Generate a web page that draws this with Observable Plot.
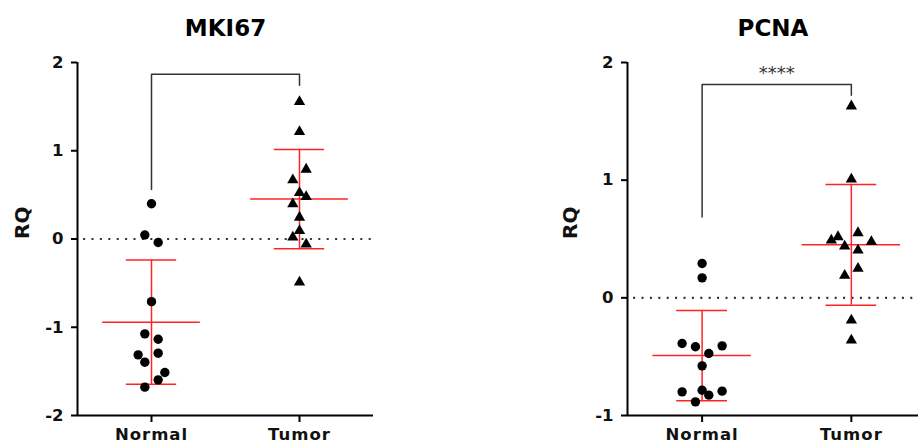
<!DOCTYPE html>
<html><head><meta charset="utf-8">
<script src="https://cdn.jsdelivr.net/npm/d3@7"></script>
<script src="https://cdn.jsdelivr.net/npm/@observablehq/plot@0.6"></script>
<style>
body{margin:0;background:#fff;}
#wrap{display:flex;width:918px;height:444px;overflow:hidden;}
</style></head><body><div id="wrap"></div>
<script>
const categories = ["Normal", "Tumor"];
const yLabel = "RQ";
const titles = ["MKI67", "PCNA"];
const sigLabels = ["", "****"];

// MKI67 values (RQ) and horizontal jitter slots
const mkiNormal = [0.40, 0.045, -0.04, -0.71, -1.075, -1.136, -1.294, -1.313, -1.396, -1.513, -1.596, -1.679];
const mkiNormalSlot = [0, -1, 1, 0, -1, 1, 1, -2, -1, 2, 1, -1];
const mkiTumor = [1.555, 1.215, 0.789, 0.668, 0.525, 0.479, 0.396, 0.245, 0.094, 0.019, -0.06, -0.49];
const mkiTumorSlot = [0, 0, 1, -1, 0, 1, -1, 0, 0, -1, 1, 0];
const mkiBracket = [0.562, 1.868, 1.743];
const mkiTicks = [-2, -1, 0, 1, 2];

// PCNA values
const pcnaNormal = [0.292, 0.170, -0.388, -0.416, -0.408, -0.473, -0.578, -0.799, -0.785, -0.793, -0.827, -0.884];
const pcnaNormalSlot = [0, 0, -3, -1, 3, 1, 0, -3, 0, 3, 1, -1];
const pcnaTumor = [1.629, 1.008, 0.552, 0.518, 0.49, 0.476, 0.439, 0.405, 0.249, 0.19, -0.19, -0.36];
const pcnaTumorSlot = [0, 0, 1, -2, -3, 3, -1, 1, 1, -1, 0, 0];
const pcnaBracket = [0.688, 1.813, 1.722];
const pcnaTicks = [-1, 0, 1, 2];

const RED = "#ff2424";

function panel(o) {
  const pxPerUnit = (o.width - o.marginLeft - o.marginRight) / (o.xDomain[1] - o.xDomain[0]);
  const step = 6.67 / pxPerUnit;
  const pts = [
    ...o.normal.map((v, i) => ({g: 0, v, s: o.normalSlot[i]})),
    ...o.tumor.map((v, i) => ({g: 1, v, s: o.tumorSlot[i]}))
  ];
  const stats = [o.normal, o.tumor].map((vals, g) => {
    const m = d3.mean(vals), sd = d3.deviation(vals);
    return {g, mean: m, lo: m - sd, hi: m + sd};
  });
  const b = o.bracket;
  const bracketPts = [{x: 0, y: b[0]}, {x: 0, y: b[1]}, {x: 1, y: b[1]}, {x: 1, y: b[2]}];
  const svg = Plot.plot({
    width: o.width, height: 444,
    marginLeft: o.marginLeft, marginRight: o.marginRight, marginTop: 62, marginBottom: 29,
    style: {fontFamily: "DejaVu Sans", background: "white", overflow: "visible"},
    x: {domain: o.xDomain},
    y: {domain: o.yDomain},
    marks: [
      Plot.ruleY([0], {stroke: "#333", strokeWidth: 2.2, strokeDasharray: "2 6.4", strokeDashoffset: 2.3}),
      Plot.axisY({ticks: o.yTicks, tickSize: 6, tickPadding: 8, tickFormat: d => String(d),
        fontSize: 16.5, fontWeight: "bold", strokeWidth: 2, stroke: "#000", fill: "#111", label: null}),
      Plot.axisX({ticks: [0, 1], tickFormat: i => categories[i], tickSize: 7, tickPadding: 6,
        fontSize: 16.5, fontWeight: "bold", strokeWidth: 2, stroke: "#000", fill: "#111", label: null}),
      Plot.ruleX([o.xDomain[0]], {stroke: "#000", strokeWidth: 2}),
      Plot.ruleY([o.yDomain[0]], {stroke: "#000", strokeWidth: 2}),
      // mean ± SD
      Plot.ruleY(stats, {y: "mean", x1: d => d.g - 0.33, x2: d => d.g + 0.33, stroke: RED, strokeWidth: 1.5}),
      Plot.ruleY(stats, {y: "hi", x1: d => d.g - 0.17, x2: d => d.g + 0.17, stroke: RED, strokeWidth: 1.5}),
      Plot.ruleY(stats, {y: "lo", x1: d => d.g - 0.17, x2: d => d.g + 0.17, stroke: RED, strokeWidth: 1.5}),
      Plot.ruleX(stats, {x: "g", y1: "lo", y2: "hi", stroke: RED, strokeWidth: 1.5}),
      // points
      Plot.dot(pts.filter(d => d.g === 0), {x: d => d.g + d.s * step, y: "v", r: 4.7, fill: "#000", stroke: "none"}),
      Plot.dot(pts.filter(d => d.g === 1), {x: d => d.g + d.s * step, y: "v", symbol: "triangle", r: 4.2, fill: "#000", stroke: "none"}),
      // significance bracket
      Plot.line(bracketPts, {x: "x", y: "y", stroke: "#333", strokeWidth: 1.5, curve: "linear"}),
      Plot.text([o.sig], {x: () => 0.5, y: () => b[1], dy: -6, lineAnchor: "bottom", fontSize: 18, fill: "#333"}),
      // title and y label
      Plot.text([o.title], {frameAnchor: "top", dy: -27, lineAnchor: "bottom", fontSize: 23, fontWeight: "bold", fill: "#000"}),
      Plot.text([yLabel], {frameAnchor: "left", dx: o.labelDx, rotate: -90, fontSize: 20, fontWeight: "bold", fill: "#111"})
    ]
  });
  d3.select(svg).selectAll('g[aria-label="x-axis tick label"] text').attr("letter-spacing", 1);
  return svg;
}

const wrap = document.getElementById("wrap");
wrap.appendChild(panel({
  title: titles[0], sig: sigLabels[0], normal: mkiNormal, normalSlot: mkiNormalSlot,
  tumor: mkiTumor, tumorSlot: mkiTumorSlot, bracket: mkiBracket, yTicks: mkiTicks,
  yDomain: [-2, 2], xDomain: [-0.5, 1.5], width: 459, marginLeft: 77, marginRight: 86, labelDx: -55
}));
wrap.appendChild(panel({
  title: titles[1], sig: sigLabels[1], normal: pcnaNormal, normalSlot: pcnaNormalSlot,
  tumor: pcnaTumor, tumorSlot: pcnaTumorSlot, bracket: pcnaBracket, yTicks: pcnaTicks,
  yDomain: [-1, 2], xDomain: [-0.5, 1.45], width: 459, marginLeft: 168, marginRight: 0, labelDx: -57
}));
</script></body></html>
